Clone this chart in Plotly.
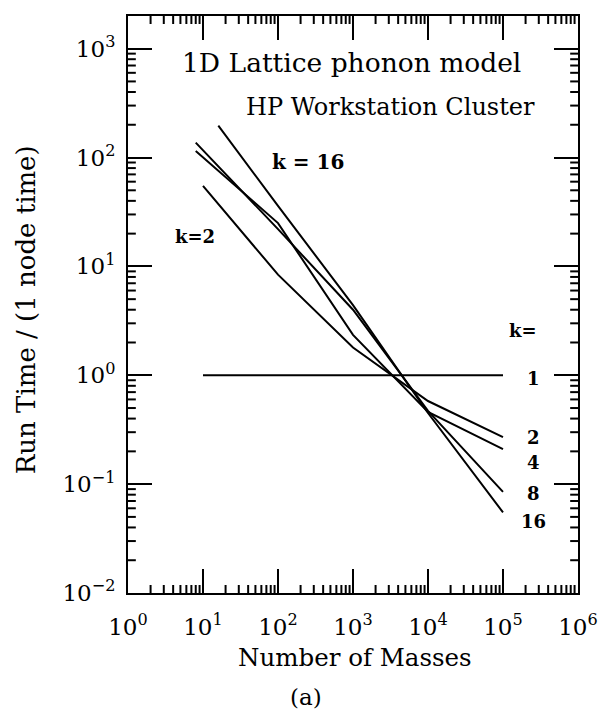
import math
import plotly.graph_objects as go

# ---- data ----
k1_n = [10, 100, 1000, 10000, 100000]
k1_t = [1, 1, 1, 1, 1]
k2_n = [10, 100, 1000, 10000, 100000]
k2_t = [55, 8.4, 1.8, 0.58, 0.27]
k4_n = [8, 100, 1000, 10000, 100000]
k4_t = [115, 25, 2.35, 0.46, 0.21]
k8_n = [8, 100, 1000, 10000, 100000]
k8_t = [137, 22, 4.0, 0.47, 0.085]
k16_n = [16, 100, 1000, 10000, 100000]
k16_t = [196, 36, 4.4, 0.45, 0.055]

x_tick_vals = [1, 10, 100, 1000, 10000, 100000, 1000000]
x_tick_text = ["10<sup>0</sup>", "10<sup>1</sup>", "10<sup>2</sup>", "10<sup>3</sup>",
               "10<sup>4</sup>", "10<sup>5</sup>", "10<sup>6</sup>"]
y_tick_vals = [0.01, 0.1, 1, 10, 100, 1000]
y_tick_text = ["10<sup>\u22122</sup>", "10<sup>\u22121</sup>", "10<sup>0</sup>",
               "10<sup>1</sup>", "10<sup>2</sup>", "10<sup>3</sup>"]

# minor tick positions (2..9 within each decade)
x_minor = [m * 10 ** e for e in range(0, 6) for m in range(2, 10)]
y_minor = [m * 10.0 ** e for e in range(-2, 4) for m in range(2, 10)]

W, H = 610, 709
L, R, T, B = 128, 588, 16, 593
X_RANGE = [0, 6]
Y_RANGE = [-2, 3.30]

def px(xp):
    return (xp - L) / (R - L)

def py(yp):
    return (B - yp) / (B - T)

fig = go.Figure()
for n, t in [(k1_n, k1_t), (k2_n, k2_t), (k4_n, k4_t), (k8_n, k8_t), (k16_n, k16_t)]:
    fig.add_trace(go.Scatter(x=n, y=t, mode="lines",
                             line=dict(color="black", width=2), showlegend=False))

serif = "DejaVu Serif"

major = dict(
    type="log", showline=True, linecolor="black", linewidth=2, mirror="allticks",
    ticks="inside", ticklen=24, tickwidth=2, tickcolor="black",
    showgrid=False, zeroline=False,
    tickfont=dict(family=serif, size=23, color="black"),
)

fig.update_layout(
    xaxis=dict(range=X_RANGE, tickvals=x_tick_vals, ticktext=x_tick_text,
               ticklabelstandoff=12, **major),
    yaxis=dict(range=Y_RANGE, tickvals=y_tick_vals, ticktext=y_tick_text,
               ticklabelstandoff=6, **major),
)

# minor ticks on all four sides (axis decoration, positioned from the log scale)
MINOR_LEN = 8
tick_line = dict(color="black", width=2)
hx = MINOR_LEN / (B - T)
hy = MINOR_LEN / (R - L)
for v in x_minor:
    f = (math.log10(v) - X_RANGE[0]) / (X_RANGE[1] - X_RANGE[0])
    fig.add_shape(type="line", xref="paper", yref="paper", x0=f, x1=f, y0=0, y1=hx,
                  line=tick_line, layer="above")
    fig.add_shape(type="line", xref="paper", yref="paper", x0=f, x1=f, y0=1 - hx, y1=1,
                  line=tick_line, layer="above")
for v in y_minor:
    f = (math.log10(v) - Y_RANGE[0]) / (Y_RANGE[1] - Y_RANGE[0])
    if f > 1:
        continue
    fig.add_shape(type="line", xref="paper", yref="paper", y0=f, y1=f, x0=0, x1=hy,
                  line=tick_line, layer="above")
    fig.add_shape(type="line", xref="paper", yref="paper", y0=f, y1=f, x0=1 - hy, x1=1,
                  line=tick_line, layer="above")

def txt(text, x, y, size, bold=False, angle=0):
    fig.add_annotation(text=("<b>%s</b>" % text) if bold else text,
                       x=px(x), y=py(y), xref="paper", yref="paper",
                       showarrow=False, xanchor="center", yanchor="middle",
                       textangle=angle,
                       font=dict(family=serif, size=size, color="black"))

txt("1D Lattice phonon model", 356, 63, 26.5)
txt("HP Workstation Cluster", 396, 107, 24)
txt("k = 16", 312, 162, 20, bold=True)
txt("k=2", 196, 236, 18, bold=True)
txt("k=", 532, 330, 18, bold=True)
txt("1", 543, 378, 18, bold=True)
txt("2", 543, 437, 18, bold=True)
txt("4", 543, 462, 18, bold=True)
txt("8", 543, 493, 18, bold=True)
txt("16", 542, 521, 18, bold=True)
txt("Number of Masses", 360, 657, 24.5)
txt("(a)", 310, 697, 23)
txt("Run Time / (1 node time)", 24, 310, 26, angle=-90)

fig.update_layout(
    width=W, height=H,
    margin=dict(l=L, r=W - R, t=T, b=H - B),
    paper_bgcolor="white", plot_bgcolor="white",
)

fig.write_html("out.html")
